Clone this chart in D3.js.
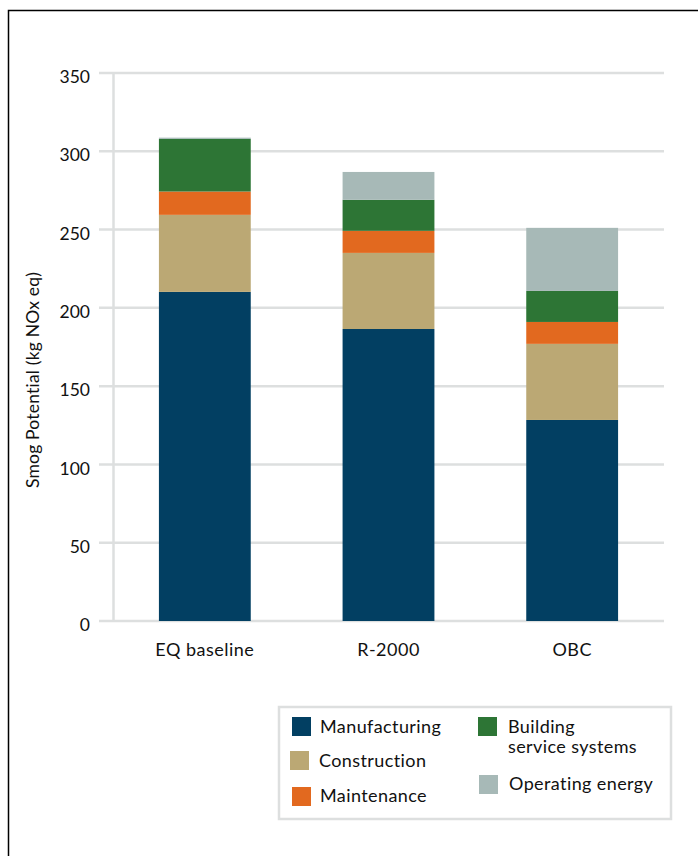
<!DOCTYPE html>
<html>
<head>
<meta charset="utf-8">
<script src="https://cdn.jsdelivr.net/npm/d3@7"></script>
<style>
  html, body { margin: 0; padding: 0; background: #fff; }
  svg { display: block; font-family: Lato, "Open Sans", sans-serif; }
</style>
</head>
<body>
<svg id="chart" width="698" height="856"></svg>
<script>
// Smog potential by life-cycle stage for three house designs
const categories = ["EQ baseline", "R-2000", "OBC"];
const seriesNames = ["Manufacturing", "Construction", "Maintenance", "Building service systems", "Operating energy"];
const manufacturing = [210.2, 186.5, 128.4];
const construction = [49.2, 48.6, 48.6];
const maintenance = [14.9, 14.1, 14.0];
const buildingServices = [33.6, 19.8, 19.8];
const operatingEnergy = [0.8, 17.8, 40.3];
const yTicks = [0, 50, 100, 150, 200, 250, 300, 350];
const colors = ["#023f62", "#bba874", "#e2691f", "#2d7535", "#a7b9b7"];

const rows = categories.map((c, i) => ({
  category: c,
  "Manufacturing": manufacturing[i],
  "Construction": construction[i],
  "Maintenance": maintenance[i],
  "Building service systems": buildingServices[i],
  "Operating energy": operatingEnergy[i]
}));

const svg = d3.select("#chart");
const textColor = "#111";
const gridColor = "#dddfdf";

// outer frame (runs off the right and bottom edges)
svg.append("rect")
  .attr("x", 8.5).attr("y", 10.5)
  .attr("width", 720).attr("height", 900)
  .attr("fill", "none").attr("stroke", "#000").attr("stroke-width", 1.5);

const x = d3.scaleBand().domain(categories).range([113, 664])
  .paddingInner(0.5).paddingOuter(0.25);
const y = d3.scaleLinear().domain([0, 350]).range([621, 73]);

// gridlines
svg.append("g").selectAll("line").data(yTicks).join("line")
  .attr("x1", 99).attr("x2", 664)
  .attr("y1", d => y(d)).attr("y2", d => y(d))
  .attr("stroke", gridColor).attr("stroke-width", 2.5);

// vertical axis line
svg.append("line")
  .attr("x1", 113.5).attr("x2", 113.5)
  .attr("y1", y(350) - 1).attr("y2", y(0))
  .attr("stroke", gridColor).attr("stroke-width", 2.5);

// y tick labels
const yAxis = d3.axisLeft(y).tickValues(yTicks).tickSize(0).tickPadding(0);
const gy = svg.append("g").attr("transform", "translate(90,4)").call(yAxis);
gy.select(".domain").remove();
gy.selectAll("text").attr("font-size", 17.5).attr("fill", textColor)
  .style("font-family", "Lato, sans-serif");

// y axis title
svg.append("text")
  .attr("transform", "translate(39,380) rotate(-90)")
  .attr("text-anchor", "middle")
  .attr("font-size", 17.5).attr("fill", textColor)
  .attr("letter-spacing", 0.2)
  .text("Smog Potential (kg NOx eq)");

// stacked bars
const stack = d3.stack().keys(seriesNames);
const layers = stack(rows);
svg.append("g").selectAll("g").data(layers).join("g")
  .attr("fill", (d, i) => colors[i])
  .selectAll("rect").data(d => d).join("rect")
  .attr("x", d => x(d.data.category))
  .attr("width", x.bandwidth())
  .attr("y", d => y(d[1]))
  .attr("height", d => y(d[0]) - y(d[1]));

// category labels
const xAxis = d3.axisBottom(x).tickSize(0).tickPadding(0);
const gx = svg.append("g").attr("transform", "translate(0,643)").call(xAxis);
gx.select(".domain").remove();
gx.selectAll("text").attr("font-size", 18).attr("fill", textColor)
  .attr("dy", "0.71em").attr("letter-spacing", 0.5)
  .style("font-family", "Lato, sans-serif");

// legend
const legend = svg.append("g");
legend.append("rect")
  .attr("x", 279).attr("y", 707).attr("width", 392).attr("height", 112)
  .attr("fill", "#fff").attr("stroke", gridColor).attr("stroke-width", 2.5);

const legendItems = [
  { name: "Manufacturing", lines: ["Manufacturing"], sx: 292, sy: 717, tx: 320, ty: 733 },
  { name: "Construction", lines: ["Construction"], sx: 290, sy: 751, tx: 319, ty: 767 },
  { name: "Maintenance", lines: ["Maintenance"], sx: 292, sy: 787, tx: 320, ty: 802 },
  { name: "Building service systems", lines: ["Building", "service systems"], sx: 478, sy: 717, tx: 508, ty: 733 },
  { name: "Operating energy", lines: ["Operating energy"], sx: 479, sy: 775, tx: 509, ty: 790 }
];
legendItems.forEach(it => {
  const i = seriesNames.indexOf(it.name);
  legend.append("rect")
    .attr("x", it.sx).attr("y", it.sy).attr("width", 19).attr("height", 19)
    .attr("fill", colors[i]);
  const t = legend.append("text")
    .attr("x", it.tx).attr("y", it.ty)
    .attr("font-size", 18).attr("letter-spacing", 0.4).attr("fill", textColor);
  it.lines.forEach((l, k) => {
    t.append("tspan").attr("x", it.tx).attr("dy", k === 0 ? 0 : 20).text(l);
  });
});
</script>
</body>
</html>
